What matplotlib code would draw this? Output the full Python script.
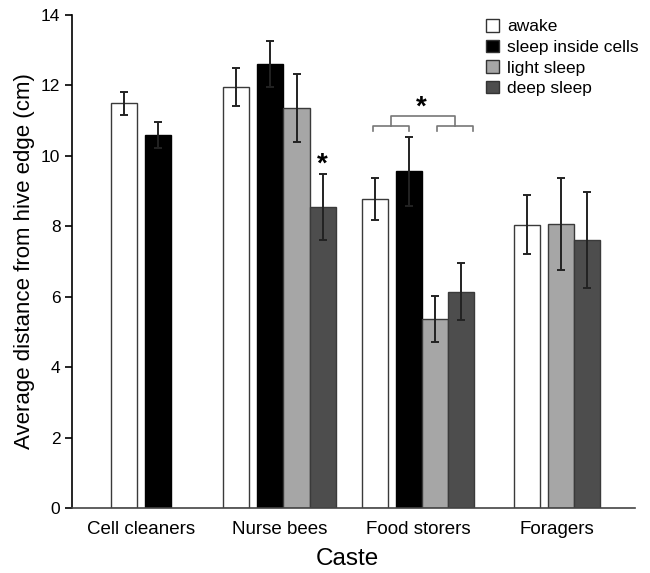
import numpy as np
import matplotlib
matplotlib.use("Agg")
import matplotlib.pyplot as plt
from matplotlib.patches import Patch

plt.rcParams['font.family'] = ['Liberation Sans', 'DejaVu Sans']

castes = ["Cell cleaners", "Nurse bees", "Food storers", "Foragers"]
states = ["awake", "sleep inside cells", "light sleep", "deep sleep"]
colors = ["white", "black", "#a6a6a6", "#4d4d4d"]

# mean distance per caste, None = no bar
means = {
    "awake":              [11.49, 11.94, 8.78, 8.04],
    "sleep inside cells": [10.59, 12.60, 9.56, None],
    "light sleep":        [None, 11.35, 5.36, 8.07],
    "deep sleep":         [None, 8.54, 6.14, 7.61],
}
errs = {
    "awake":              [0.32, 0.54, 0.60, 0.84],
    "sleep inside cells": [0.36, 0.65, 0.98, None],
    "light sleep":        [None, 0.97, 0.65, 1.31],
    "deep sleep":         [None, 0.94, 0.81, 1.35],
}

bw = 0.188
gap = 0.058

fig = plt.figure(figsize=(6.5, 5.73), dpi=100)
ax = fig.add_axes([0.110, 0.1134, 0.867, 0.8606])

for gi, caste in enumerate(castes):
    present = [s for s in states if means[s][gi] is not None]
    # awake bar, then a gap, then the sleep bars side by side
    lefts = []
    x = 0.0
    for s in present:
        lefts.append(x)
        x += bw
        if s == "awake":
            x += gap
    total = x
    for s, l in zip(present, lefts):
        si = states.index(s)
        xc = gi - total / 2 + l + bw / 2
        ax.bar(xc, means[s][gi], width=bw, color=colors[si],
               edgecolor="#3a3a3a" if si != 1 else "black", linewidth=1.0, zorder=2)
        ax.errorbar(xc, means[s][gi], yerr=errs[s][gi], fmt="none",
                    ecolor="#222222", elinewidth=1.4, capsize=3, capthick=1.4, zorder=3)

# significance marks
ax.text(1.31, 9.75, "*", ha="center", va="center", fontsize=20, fontweight="bold")
bc = "#777777"
ax.plot([1.675, 1.675, 1.935, 1.935], [10.69, 10.85, 10.85, 10.69], color=bc, lw=1.2)
ax.plot([2.133, 2.133, 2.393, 2.393], [10.69, 10.85, 10.85, 10.69], color=bc, lw=1.2)
ax.plot([1.808, 1.808, 2.265, 2.265], [10.85, 11.13, 11.13, 10.85], color=bc, lw=1.2)
ax.text(2.025, 11.38, "*", ha="center", va="center", fontsize=20, fontweight="bold")

ax.set_xlim(-0.50, 3.565)
ax.set_ylim(0, 14)
ax.set_yticks(np.arange(0, 15, 2))
ax.set_xticks(range(len(castes)))
ax.set_xticklabels(castes, fontsize=13.5)
ax.tick_params(axis="y", labelsize=12.5, length=5, width=1.2, direction="out", pad=3)
ax.tick_params(axis="x", length=0, pad=9)
for sp in ["top", "right"]:
    ax.spines[sp].set_visible(False)
ax.spines["left"].set_linewidth(1.2)
ax.spines["bottom"].set_linewidth(1.2)
ax.spines["bottom"].set_color("#444444")

ax.set_xlabel("Caste", fontsize=17.5)
ax.xaxis.set_label_coords(0.489, -0.082)
ax.set_ylabel("Average distance from hive edge (cm)", fontsize=16, labelpad=4)

handles = [Patch(facecolor=c, edgecolor="#333333", linewidth=1.0) for c in colors]
ax.legend(handles, states, loc="upper left", bbox_to_anchor=(0.724, 1.006),
          frameon=False, fontsize=12.5, handlelength=0.75, handleheight=0.75,
          handletextpad=0.45, labelspacing=0.30, borderaxespad=0)

fig.savefig("out.png", dpi=100)
